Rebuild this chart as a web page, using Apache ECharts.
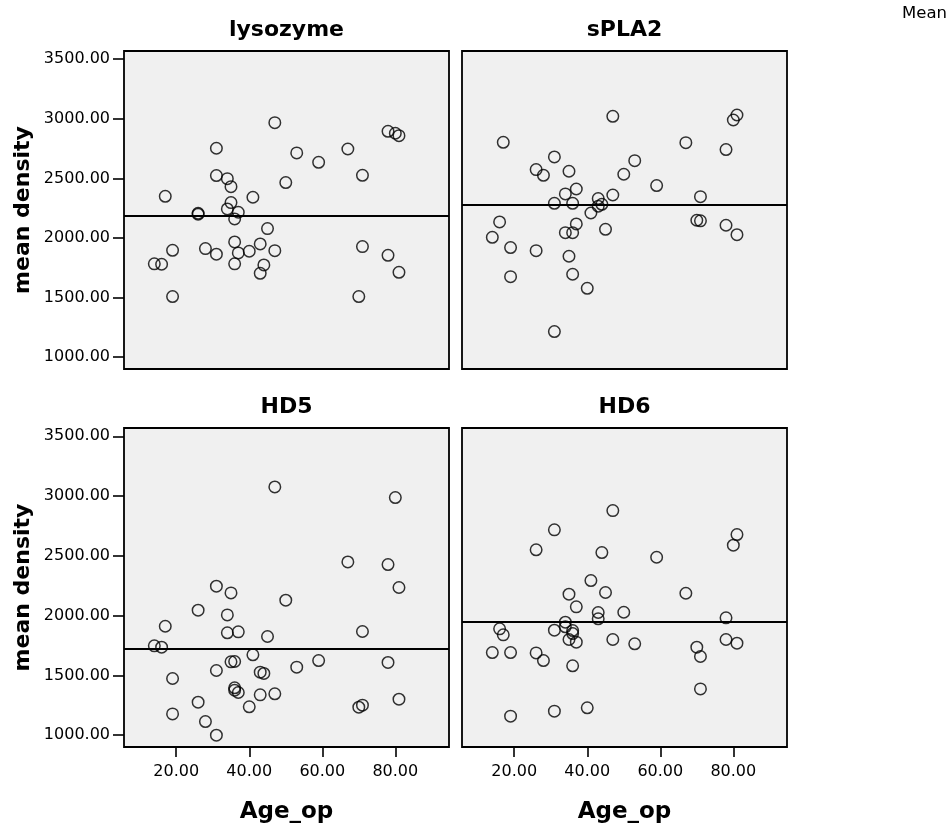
<!DOCTYPE html>
<html>
<head>
<meta charset="utf-8">
<script src="https://cdn.jsdelivr.net/npm/echarts@6/dist/echarts.min.js"></script>
<style>
html,body{margin:0;padding:0;background:#fff;}
#chart{width:951px;height:834px;}
</style>
</head>
<body>
<div id="chart"></div>
<script>
// ---- Data ----
const panelTitles = ['lysozyme', 'sPLA2', 'HD5', 'HD6'];
const xTickValues = [20, 40, 60, 80];
const yTickValues = [1000, 1500, 2000, 2500, 3000, 3500];
const panelMeans = [2188, 2280, 1719, 1946];

const lysozymeAge = [47,78,80,81,31,67,53,59,71,31,34,35,50,17,41,35,34,37,26,26,36,45,36,43,19,28,47,71,31,37,40,78,14,16,36,44,43,81,19,70];
const lysozymeDensity = [2968,2895,2879,2859,2753,2747,2714,2635,2526,2524,2498,2431,2465,2350,2342,2297,2244,2216,2207,2200,2160,2079,1967,1950,1897,1911,1894,1928,1864,1875,1889,1855,1783,1780,1783,1774,1704,1712,1509,1509];

const spla2Age = [47,81,80,17,67,78,31,53,26,28,35,50,59,37,34,47,71,43,31,36,44,43,41,16,70,71,37,78,45,34,36,81,14,19,26,35,36,19,40,31];
const spla2Density = [3021,3032,2990,2803,2800,2742,2680,2649,2574,2526,2560,2535,2440,2411,2370,2361,2347,2331,2291,2291,2283,2267,2210,2135,2149,2144,2118,2107,2073,2045,2045,2028,2006,1920,1894,1847,1696,1676,1578,1215];

const hd5Age = [47,80,67,78,81,31,35,50,26,34,17,34,37,45,71,14,16,41,59,78,35,36,31,53,43,44,19,36,36,37,43,47,81,26,70,71,40,19,28,31];
const hd5Density = [3076,2987,2449,2427,2235,2246,2190,2129,2045,2006,1911,1856,1864,1825,1867,1747,1736,1672,1624,1608,1613,1616,1541,1569,1527,1516,1474,1396,1376,1357,1337,1346,1301,1276,1234,1251,1237,1178,1114,1000];

const hd6Age = [47,31,81,80,26,44,59,41,45,67,35,37,50,43,43,78,34,16,17,31,34,36,36,35,37,47,53,78,81,70,71,14,19,26,28,36,71,40,31,19];
const hd6Density = [2878,2717,2678,2589,2550,2527,2488,2293,2193,2187,2179,2073,2028,2026,1973,1981,1945,1889,1839,1878,1906,1875,1850,1800,1778,1800,1764,1800,1769,1736,1658,1691,1691,1688,1624,1580,1387,1229,1201,1159];

const panelAges = [lysozymeAge, spla2Age, hd5Age, hd6Age];
const panelDensities = [lysozymeDensity, spla2Density, hd5Density, hd6Density];

// ---- Layout / style ----
const FONT = 'DejaVu Sans';
const gridsPos = [
  {left: 124, top: 51, width: 325, height: 318},
  {left: 462, top: 51, width: 325, height: 318},
  {left: 124, top: 428, width: 325, height: 319},
  {left: 462, top: 428, width: 325, height: 319}
];
const X_MIN = 5.7, X_MAX = 94.7, Y_MIN = 901, Y_MAX = 3569;

const chart = echarts.init(document.getElementById('chart'), null, {renderer: 'canvas'});

const grid = gridsPos.map(g => Object.assign({
  show: true, backgroundColor: '#f0f0f0', borderColor: '#000', borderWidth: 1.8
}, g));

const xAxis = gridsPos.map((g, i) => {
  const showLab = i >= 2;
  return {
    type: 'value', gridIndex: i, min: X_MIN, max: X_MAX,
    axisLine: {show: false},
    splitLine: {show: false},
    axisTick: {show: showLab, customValues: xTickValues, length: 10, inside: false,
      lineStyle: {color: '#000', width: 1.6}},
    axisLabel: {show: showLab, customValues: xTickValues, margin: 17,
      formatter: v => v.toFixed(2),
      fontFamily: FONT, fontSize: 16, color: '#000'}
  };
});

const yAxis = gridsPos.map((g, i) => {
  const showLab = (i % 2) === 0;
  return {
    type: 'value', gridIndex: i, min: Y_MIN, max: Y_MAX,
    axisLine: {show: false},
    splitLine: {show: false},
    axisTick: {show: showLab, customValues: yTickValues, length: 11, inside: false,
      lineStyle: {color: '#000', width: 1.6}},
    axisLabel: {show: showLab, customValues: yTickValues, margin: 14,
      formatter: v => v.toFixed(2),
      fontFamily: FONT, fontSize: 16, color: '#000'}
  };
});

const series = panelAges.map((ages, i) => ({
  type: 'scatter', xAxisIndex: i, yAxisIndex: i,
  symbol: 'circle', symbolSize: 11.5,
  itemStyle: {color: 'rgba(0,0,0,0)', borderColor: '#000', borderWidth: 1.5},
  emphasis: {disabled: true},
  data: ages.map((a, k) => [a, panelDensities[i][k]]),
  markLine: {
    silent: true, symbol: ['none', 'none'],
    label: {show: false},
    lineStyle: {color: '#000', width: 2, type: 'solid'},
    data: [{yAxis: panelMeans[i]}]
  },
  z: 3
}));

const boldText = {fontFamily: FONT, fontSize: 22, fontWeight: 'bold', fill: '#000', align: 'center', verticalAlign: 'middle'};
const graphic = [];
panelTitles.forEach((t, i) => {
  const g = gridsPos[i];
  graphic.push({type: 'text', x: g.left + g.width / 2, y: g.top - 21,
    style: Object.assign({text: t}, boldText)});
});
[0, 2].forEach(i => {
  const g = gridsPos[i];
  graphic.push({type: 'text', x: 23, y: g.top + g.height / 2, rotation: Math.PI / 2,
    style: Object.assign({text: 'mean density'}, boldText)});
});
[2, 3].forEach(i => {
  const g = gridsPos[i];
  graphic.push({type: 'text', x: g.left + g.width / 2, y: 812,
    style: Object.assign({text: 'Age_op'}, boldText, {fontSize: 23})});
});
graphic.push({type: 'text', x: 947, y: 14,
  style: {text: 'Mean', fontFamily: FONT, fontSize: 16.5, fill: '#000', align: 'right', verticalAlign: 'middle'}});

chart.setOption({
  animation: false,
  backgroundColor: '#fff',
  grid, xAxis, yAxis, series, graphic
});
</script>
</body>
</html>
